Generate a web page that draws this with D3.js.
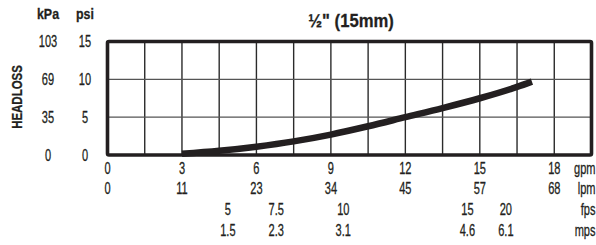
<!DOCTYPE html>
<html>
<head>
<meta charset="utf-8">
<script src="https://cdn.jsdelivr.net/npm/d3@7"></script>
<style>
  body { margin: 0; background: #fff; }
  text { font-family: "Liberation Sans", Arial, sans-serif; fill: #231f20; stroke: #231f20; stroke-width: 0.3; }
</style>
</head>
<body>
<div id="chart"></div>
<script>
// chart data
var flowGpm = [3, 4.5, 6, 7.5, 9, 10.5, 12, 13.5, 15, 16.5, 17.1];
var headPsi = [0.15, 0.55, 1.1, 1.8, 2.7, 3.8, 5.0, 6.2, 7.5, 9.0, 9.7];

var gpmTicks = [0, 3, 6, 9, 12, 15, 18];
var lpmLabels = ["0", "11", "23", "34", "45", "57", "68"];
var fpsLabels = ["5", "7.5", "10", "15", "20"];
var mpsLabels = ["1.5", "2.3", "3.1", "4.6", "6.1"];
var velocityAtGpm = [4.85, 6.8, 9.5, 14.5, 16.05];
var psiTicks = [0, 5, 10, 15];
var kpaLabels = ["0", "35", "69", "103"];
var gridGpm = d3.range(1.5, 19.5, 1.5);

var svgWidth = 596;
var svgHeight = 245;

var plot = { left: 107.5, right: 591.5, top: 41.5, bottom: 155 };

// the original uses a condensed face, so squeeze the text horizontally
var squeeze = 0.67;
var labelSize = "16.5px";

var svg = d3.select("#chart")
            .append("svg")
            .attr("width", svgWidth)
            .attr("height", svgHeight);

var x = d3.scaleLinear().domain([0, 19.5]).range([plot.left, plot.right]);
var y = d3.scaleLinear().domain([0, 15]).range([plot.bottom, plot.top]);

function place(px, py, sx) {
    return `translate(${px}, ${py}) scale(${sx || squeeze}, 1)`;
}

// grid
svg.append("g")
   .selectAll("line")
   .data(gridGpm)
   .enter()
   .append("line")
   .attr("x1", d => x(d)).attr("x2", d => x(d))
   .attr("y1", plot.top).attr("y2", plot.bottom)
   .style("stroke", "#2b2b2b")
   .style("stroke-width", 1.4);

svg.append("g")
   .selectAll("line")
   .data(psiTicks.slice(1, 3))
   .enter()
   .append("line")
   .attr("x1", plot.left).attr("x2", plot.right)
   .attr("y1", d => y(d)).attr("y2", d => y(d))
   .style("stroke", "#555")
   .style("stroke-width", 1.4);

// frame
svg.append("rect")
   .attr("x", plot.left).attr("y", plot.top)
   .attr("width", plot.right - plot.left)
   .attr("height", plot.bottom - plot.top)
   .attr("rx", 1.5)
   .style("fill", "none")
   .style("stroke", "#231f20")
   .style("stroke-width", 3.6);

// curve
var line = d3.line()
             .x((d, i) => x(flowGpm[i]))
             .y(d => y(d))
             .curve(d3.curveMonotoneX);

svg.append("path")
   .datum(headPsi)
   .attr("d", line)
   .style("fill", "none")
   .style("stroke", "#231f20")
   .style("stroke-width", 6.5);

// y axis labels
svg.append("text")
   .attr("transform", place(48, 19, 0.8))
   .attr("text-anchor", "middle")
   .attr("font-size", "15.5px")
   .attr("font-weight", "bold")
   .text("kPa");

svg.append("text")
   .attr("transform", place(85, 19, 0.8))
   .attr("text-anchor", "middle")
   .attr("font-size", "15.5px")
   .attr("font-weight", "bold")
   .text("psi");

svg.append("g")
   .selectAll("text")
   .data(psiTicks)
   .enter()
   .append("text")
   .attr("transform", d => place(48, y(d)))
   .attr("dy", "0.36em")
   .attr("text-anchor", "middle")
   .attr("font-size", labelSize)
   .text((d, i) => kpaLabels[i]);

svg.append("g")
   .selectAll("text")
   .data(psiTicks)
   .enter()
   .append("text")
   .attr("transform", d => place(85, y(d)))
   .attr("dy", "0.36em")
   .attr("text-anchor", "middle")
   .attr("font-size", labelSize)
   .text(d => d);

svg.append("text")
   .attr("transform", "translate(21.5, 97) rotate(-90) scale(0.74, 1)")
   .attr("text-anchor", "middle")
   .attr("font-size", "15.5px")
   .attr("font-weight", "bold")
   .text("HEADLOSS");

// title
svg.append("text")
   .attr("transform", place(351, 26.5, 0.9))
   .attr("text-anchor", "middle")
   .attr("font-size", "18.5px")
   .attr("font-weight", "bold")
   .text("\u00BD\" (15mm)");

// bottom rows
var rowY = [168.5, 188, 209, 230.5];

svg.append("g")
   .selectAll("text")
   .data(gpmTicks)
   .enter()
   .append("text")
   .attr("transform", d => place(x(d), rowY[0]))
   .attr("dy", "0.36em")
   .attr("text-anchor", "middle")
   .attr("font-size", labelSize)
   .text(d => d);

svg.append("g")
   .selectAll("text")
   .data(gpmTicks)
   .enter()
   .append("text")
   .attr("transform", d => place(x(d), rowY[1]))
   .attr("dy", "0.36em")
   .attr("text-anchor", "middle")
   .attr("font-size", labelSize)
   .text((d, i) => lpmLabels[i]);

svg.append("g")
   .selectAll("text")
   .data(velocityAtGpm)
   .enter()
   .append("text")
   .attr("transform", d => place(x(d), rowY[2]))
   .attr("dy", "0.36em")
   .attr("text-anchor", "middle")
   .attr("font-size", labelSize)
   .text((d, i) => fpsLabels[i]);

svg.append("g")
   .selectAll("text")
   .data(velocityAtGpm)
   .enter()
   .append("text")
   .attr("transform", d => place(x(d), rowY[3]))
   .attr("dy", "0.36em")
   .attr("text-anchor", "middle")
   .attr("font-size", labelSize)
   .text((d, i) => mpsLabels[i]);

svg.append("g")
   .selectAll("text")
   .data(["gpm", "lpm", "fps", "mps"])
   .enter()
   .append("text")
   .attr("transform", (d, i) => place(595.5, rowY[i]))
   .attr("dy", "0.36em")
   .attr("text-anchor", "end")
   .attr("font-size", labelSize)
   .text(d => d);
</script>
</body>
</html>
